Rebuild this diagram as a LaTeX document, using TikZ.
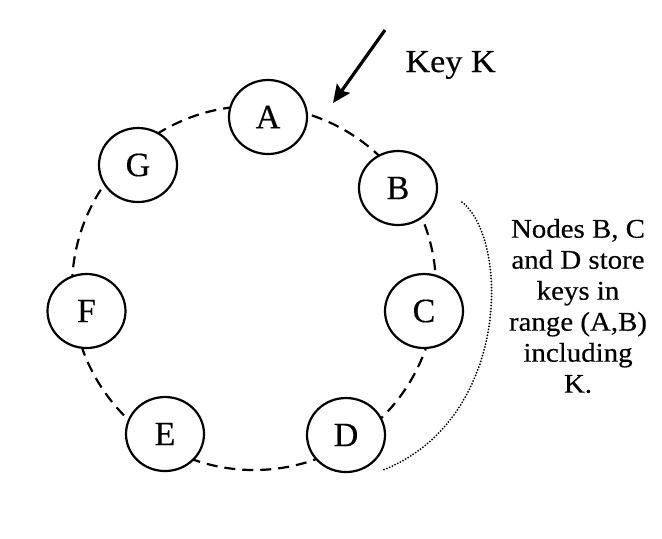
\documentclass[tikz,border=0pt]{standalone}
\usepackage{fontspec}
\setmainfont{Liberation Serif}[FakeBold=0.4]
\newfontfamily\widefont{Liberation Serif}[FakeStretch=1.07,FakeBold=0.4]
\usetikzlibrary{arrows.meta,shapes.geometric}
\begin{document}
\begin{tikzpicture}[x=0.5pt,y=-0.5pt,
  ringnode/.style={ellipse,draw,fill=white,line width=1.1pt,minimum width=39pt,minimum height=37pt,inner sep=0pt,font=\fontsize{17}{20}\selectfont},
  ringline/.style={line width=1.1pt,dash pattern=on 5.5pt off 3.5pt},
  keyarrow/.style={line width=1.6pt,-{Stealth[length=9pt,width=8pt,inset=1.5pt]}},
  dotline/.style={line width=1pt,line cap=round,dash pattern=on 0pt off 1.5pt},
  note/.style={align=center,font=\widefont\fontsize{13.5}{15.5}\selectfont}]
\useasboundingbox (0,0) rectangle (662,538);
\coordinate (ring) at (254,288);
\draw[ringline] (ring) circle[radius=91pt];
\node[ringnode] (A) at (268,117) {A};
\node[ringnode] (B) at (398,188) {B};
\node[ringnode] (C) at (424,311) {C};
\node[ringnode] (D) at (346,435) {D};
\node[ringnode] (E) at (165,434) {E};
\node[ringnode] (F) at (86.5,311) {F};
\node[ringnode] (G) at (138,165) {G};
\coordinate (kstart) at (385,30);
\coordinate (ktip) at (333,103);
\draw[keyarrow] (kstart) -- (ktip);
\node[anchor=base west,inner sep=0pt,font=\widefont\fontsize{16}{19}\selectfont] (key) at (405,72) {Key K};
\coordinate (bd1) at (462,202);
\coordinate (bd2) at (383,470);
\draw[dotline] (bd1) .. controls (510,240) and (510,420) .. (bd2);
\node[note] (txt) at (578,306) {Nodes B, C\\and D store\\keys in\\range (A,B)\\including\\K.};
\end{tikzpicture}
\end{document}
